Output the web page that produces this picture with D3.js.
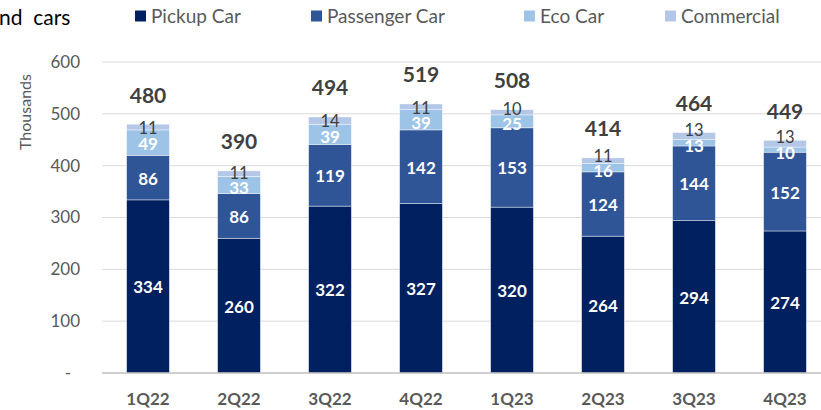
<!DOCTYPE html>
<html><head><meta charset="utf-8">
<script src="https://cdn.jsdelivr.net/npm/d3@7"></script>
<style>body{margin:0;background:#fff;}svg{display:block;font-family:Lato,"Open Sans",sans-serif;}</style>
</head><body><svg id="c" width="821" height="410"></svg>
<script>
const categories = ["1Q22","2Q22","3Q22","4Q22","1Q23","2Q23","3Q23","4Q23"];
const seriesNames = ["Pickup Car","Passenger Car","Eco Car","Commercial"];
const pickup = [334,260,322,327,320,264,294,274];
const passenger = [86,86,119,142,153,124,144,152];
const eco = [49,33,39,39,25,16,13,10];
const commercial = [11,11,14,11,10,11,13,13];
const totals = [480,390,494,519,508,414,464,449];
const yTicks = [0,100,200,300,400,500,600];
const colors = ["#002060","#2F5597","#9DC3E6","#B4C7E7"];

const svg = d3.select("#c");
const x = d3.scaleBand().domain(categories).range([102.5,830.5]).paddingInner(0.53).paddingOuter(0.265);
const y = d3.scaleLinear().domain([0,600]).range([373,62]);

// gridlines
svg.append("g").selectAll("line").data(yTicks.filter(d=>d>0)).join("line")
  .attr("x1",102).attr("x2",821).attr("y1",d=>y(d)).attr("y2",d=>y(d))
  .attr("stroke","#D9D9D9").attr("stroke-width",1);

// y tick labels
svg.append("g").selectAll("text").data(yTicks).join("text")
  .attr("x",d=>d===0?71:80).attr("y",d=>y(d)).attr("dy","0.35em")
  .attr("text-anchor","end").attr("font-size",17).attr("fill","#595959")
  .text(d=>d===0?"-":d);

svg.append("text").attr("transform","translate(31,112) rotate(-90)")
  .attr("text-anchor","middle").attr("font-size",16).attr("fill","#595959").text("Thousands");

// stack
const rows = categories.map((c,i)=>({cat:c, "Pickup Car":pickup[i], "Passenger Car":passenger[i], "Eco Car":eco[i], "Commercial":commercial[i]}));
const stack = d3.stack().keys(seriesNames)(rows);

// label positions: segment middles, with small labels nudged apart
const mids = stack.map(layer=>layer.map(d=>(y(d[0])+y(d[1]))/2));
const minSep = 15;
categories.forEach((c,i)=>{
  const sep = mids[2][i]-mids[3][i];
  if (sep < minSep) {
    const need = minSep - sep;
    const down = Math.min(2, need);
    mids[2][i] += down;
    mids[3][i] -= (need - down);
  }
});

const g = svg.append("g");
stack.forEach((layer,li)=>{
  g.append("g").selectAll("rect").data(layer).join("rect")
    .attr("x",d=>x(d.data.cat)).attr("width",x.bandwidth())
    .attr("y",d=>y(d[1])).attr("height",d=>y(d[0])-y(d[1]))
    .attr("fill",colors[li]).attr("stroke","#ffffff").attr("stroke-width",0.6).attr("stroke-opacity",0.7);
});
stack.forEach((layer,li)=>{
  g.append("g").selectAll("text").data(layer).join("text")
    .attr("x",d=>x(d.data.cat)+x.bandwidth()/2)
    .attr("y",(d,i)=>mids[li][i]+1)
    .attr("dy","0.35em").attr("text-anchor","middle")
    .attr("font-size",li===3?16.5:17).attr("font-weight",li===3?"normal":"bold")
    .attr("fill",li===3?"#404040":"#ffffff")
    .text(d=>d[1]-d[0]);
});

// totals
svg.append("g").selectAll("text").data(categories).join("text")
  .attr("x",d=>x(d)+x.bandwidth()/2)
  .attr("y",(d,i)=>y(d3.sum([pickup[i],passenger[i],eco[i],commercial[i]]))-29)
  .attr("dy","0.35em").attr("text-anchor","middle")
  .attr("font-size",21).attr("font-weight","bold").attr("fill","#404040")
  .text((d,i)=>totals[i]);

// baseline
svg.append("line").attr("x1",102).attr("x2",821).attr("y1",y(0)).attr("y2",y(0))
  .attr("stroke","#BFBFBF").attr("stroke-width",1.5);

// x labels
svg.append("g").selectAll("text").data(categories).join("text")
  .attr("x",d=>x(d)+x.bandwidth()/2).attr("y",399).attr("dy","0.35em")
  .attr("text-anchor","middle").attr("font-size",17).attr("font-weight","bold").attr("fill","#595959")
  .text(d=>d);

// title fragment
svg.append("text").attr("x",-1).attr("y",18).attr("dy","0.35em")
  .attr("font-size",21).attr("fill","#000").attr("xml:space","preserve").text("nd  cars");

// legend
const legX = [135,311,524,665];
const leg = svg.append("g").selectAll("g").data(seriesNames).join("g")
  .attr("transform",(d,i)=>`translate(${legX[i]},16)`);
leg.append("rect").attr("x",0).attr("y",-5.5).attr("width",11).attr("height",11).attr("fill",(d,i)=>colors[i]);
leg.append("text").attr("x",16).attr("y",0).attr("dy","0.35em").attr("font-size",19).attr("fill","#595959").text(d=>d);
</script></body></html>
